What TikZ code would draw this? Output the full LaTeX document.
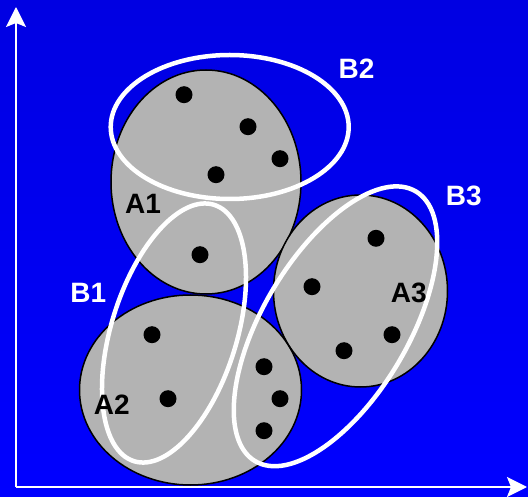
\documentclass[tikz,border=0pt]{standalone}
\usepackage{fontspec}
\setmainfont{Liberation Sans}
\usetikzlibrary{arrows.meta}
\definecolor{bgtop}{RGB}{0,0,226}
\definecolor{bgbottom}{RGB}{0,0,255}
\definecolor{clustergray}{RGB}{179,179,179}
\begin{document}
\begin{tikzpicture}[x=1pt,y=1pt,
  cluster/.style={draw=black,line width=1.5pt,fill=clustergray},
  group/.style={draw=white,line width=4.5pt},
  dot/.style={circle,fill=black,inner sep=0pt,minimum size=17pt},
  lab/.style={font=\fontsize{28}{28}\selectfont\bfseries,inner sep=0pt},
  axis/.style={draw=white,line width=2pt,-{Stealth[length=20pt,width=20pt,inset=4pt]}}]

% background
\shade[top color=bgtop,bottom color=bgbottom] (0,0) rectangle (528,496);
\useasboundingbox (0,0) rectangle (528,496);

% axes
\coordinate (origin) at (16,9);
\coordinate (ytip) at (16,489);
\coordinate (xtip) at (527,9);
\draw[axis] (origin) -- (ytip);
\draw[axis] (origin) -- (xtip);

% clusters A1, A2, A3
\draw[cluster] (206,314) ellipse [x radius=95, y radius=112];
\draw[cluster] (190.5,106) ellipse [x radius=111, y radius=95];
\draw[cluster] (360.5,205) ellipse [x radius=87, y radius=96];

% data points
\foreach \i/\p in {1/{184,401.3},2/{248,369.3},3/{280,337.3},4/{216,321.3},5/{200,241.3},
                   6/{152,161.3},7/{168,97.3},8/{264,129.3},9/{280,97.3},10/{264,65.3},
                   11/{376,257.7},12/{312,209.3},13/{392,161.3},14/{344,145.3}}
  \node[dot] (p\i) at (\p) {};

% groups B1, B2, B3
\draw[group] (229.7,369) ellipse [x radius=119, y radius=72];
\draw[group, rotate around={-17.35:(174,163)}] (174,163) ellipse [x radius=62.7, y radius=134.3];
\draw[group, rotate around={-30.8:(335.5,169.7)}] (335.5,169.7) ellipse [x radius=72.6, y radius=157];

% labels
\node[lab,text=black] (la1) at (143,292) {A1};
\node[lab,text=black] (la2) at (111.7,91) {A2};
\node[lab,text=black] (la3) at (408.8,203.5) {A3};
\node[lab,text=white] (lb1) at (88.3,202.7) {B1};
\node[lab,text=white] (lb2) at (356.5,427.2) {B2};
\node[lab,text=white] (lb3) at (463.8,300.2) {B3};
\end{tikzpicture}
\end{document}
